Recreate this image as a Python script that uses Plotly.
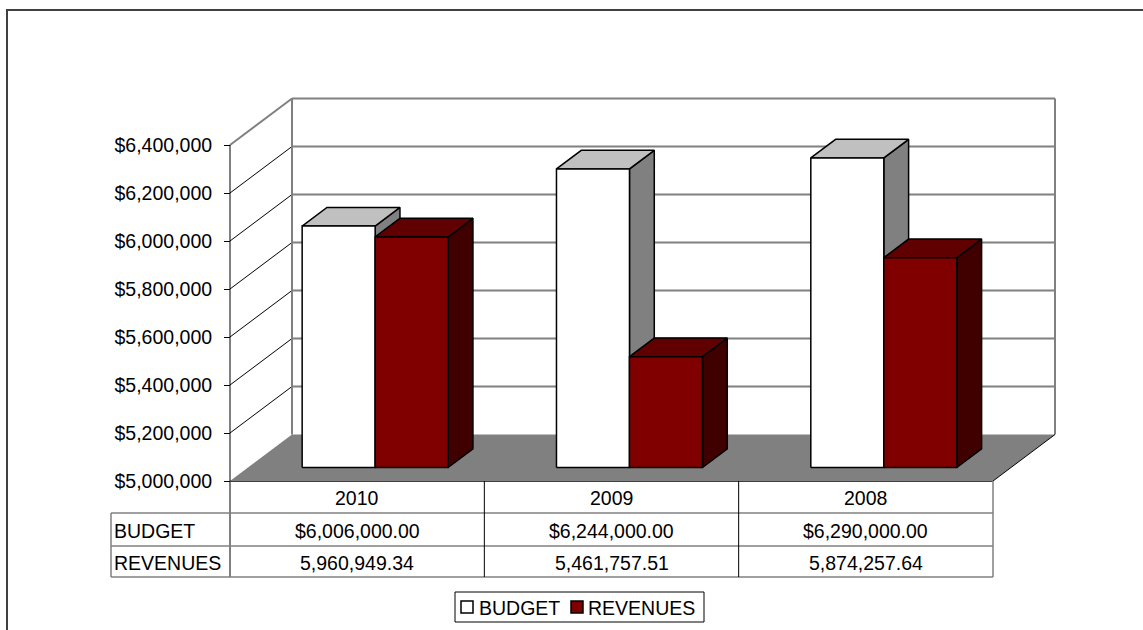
import plotly.graph_objects as go

# ---- data ----
categories = ["2010", "2009", "2008"]
budget = [6006000.00, 6244000.00, 6290000.00]
revenues = [5960949.34, 5461757.51, 5874257.64]
series_names = ["BUDGET", "REVENUES"]
axis_ticks = [5000000, 5200000, 5400000, 5600000, 5800000, 6000000, 6200000, 6400000]

# ---- page / projection geometry ----
W, H = 1143, 630
FONT = "Liberation Sans, Arial, sans-serif"
FS = 19.5

BASE, TOP = axis_ticks[0], axis_ticks[-1]
ORIGIN_X_PX, ORIGIN_Y_PX = 230, 481          # front-left corner of the floor
UNIT_PX = (993 - 230) / len(categories)       # pixels per category slot
VAL_PX = 48 / 200000                          # pixels per dollar
DX = 62 / UNIT_PX                             # oblique depth offset (x, category units)
DY = 46.5 / VAL_PX                            # oblique depth offset (y, dollars)
D_FRONT, D_BACK = 0.29, 0.69                  # bar depth extent within the floor
BAR_W = 73 / UNIT_PX

x_range = [-ORIGIN_X_PX / UNIT_PX, (W - ORIGIN_X_PX) / UNIT_PX]
y_range = [BASE - (H - ORIGIN_Y_PX) / VAL_PX, BASE + ORIGIN_Y_PX / VAL_PX]


def proj(u, v, d):
    """Oblique projection of (category position, value, depth) onto the 2-D axes."""
    return u + d * DX, v + d * DY


def val_at(px):
    return BASE + (ORIGIN_Y_PX - px) / VAL_PX


def py(px):
    return 1 - px / H


def px_x(px):
    return px / W


fig = go.Figure()
shapes = []
annotations = []


def seg(x0, y0, x1, y1, color, width, xref="x", yref="y"):
    shapes.append(dict(type="line", xref=xref, yref=yref, x0=x0, y0=y0, x1=x1, y1=y1,
                       line=dict(color=color, width=width), layer="below"))


def poly(points, fill, line_color, line_width, name=None):
    xs = [p[0] for p in points] + [points[0][0]]
    ys = [p[1] for p in points] + [points[0][1]]
    fig.add_trace(go.Scatter(x=xs, y=ys, mode="lines", fill="toself", fillcolor=fill,
                             line=dict(color=line_color, width=line_width),
                             hoverinfo="skip", showlegend=False, name=name))


n = len(categories)

# ---- walls ----
for v in axis_ticks[1:]:
    # back wall gridline
    xa, ya = proj(0, v, 1)
    xb, yb = proj(n, v, 1)
    seg(xa, ya, xb, yb, "#808080", 2)
    # side wall gridline
    if v == TOP:
        seg(0, v, xa, ya, "#808080", 2)
    else:
        seg(0, v, xa, ya, "#000000", 1)
for u in (0, n):
    xa, ya = proj(u, BASE, 1)
    xb, yb = proj(u, TOP, 1)
    seg(xa, ya, xb, yb, "#808080", 2)

# ---- floor ----
poly([proj(0, BASE, 0), proj(n, BASE, 0), proj(n, BASE, 1), proj(0, BASE, 1)],
     "#808080", "rgba(0,0,0,0)", 0)
fx0, fy0 = proj(n, BASE, 0)
fx1, fy1 = proj(n, BASE, 1)
fig.add_trace(go.Scatter(x=[fx0, fx1], y=[fy0, fy1], mode="lines",
                         line=dict(color="#000000", width=1), hoverinfo="skip", showlegend=False))

# ---- 3-D bars ----
styles = [
    dict(front="#FFFFFF", top="#C0C0C0", side="#808080"),
    dict(front="#800000", top="#600000", side="#400000"),
]
for i in range(n):
    centre = i + 0.5
    for s, vals in enumerate((budget, revenues)):
        v = vals[i]
        u0 = centre - BAR_W + s * BAR_W
        u1 = u0 + BAR_W
        st = styles[s]
        poly([proj(u1, BASE, D_FRONT), proj(u1, v, D_FRONT), proj(u1, v, D_BACK), proj(u1, BASE, D_BACK)],
             st["side"], "#000000", 1.5)
        poly([proj(u0, v, D_FRONT), proj(u1, v, D_FRONT), proj(u1, v, D_BACK), proj(u0, v, D_BACK)],
             st["top"], "#000000", 1.5)
        poly([proj(u0, BASE, D_FRONT), proj(u1, BASE, D_FRONT), proj(u1, v, D_FRONT), proj(u0, v, D_FRONT)],
             st["front"], "#000000", 1.5, name=series_names[s])

# ---- value axis line (continues down through the data table) ----
TABLE_ROWS_PX = [481, 513, 546, 577]
LABEL_COL_PX = 111
seg(0, TOP, 0, val_at(TABLE_ROWS_PX[-1]), "#000000", 1)

# ---- data table ----
seg(0, BASE, n, BASE, "#404040", 2)
for rpx in TABLE_ROWS_PX[1:]:
    shapes.append(dict(type="line", xref="paper", yref="paper",
                       x0=px_x(LABEL_COL_PX), x1=px_x(ORIGIN_X_PX + n * UNIT_PX),
                       y0=py(rpx), y1=py(rpx), line=dict(color="#808080", width=1.5)))
shapes.append(dict(type="line", xref="paper", yref="paper",
                   x0=px_x(LABEL_COL_PX), x1=px_x(LABEL_COL_PX),
                   y0=py(TABLE_ROWS_PX[1]), y1=py(TABLE_ROWS_PX[-1]),
                   line=dict(color="#808080", width=1.5)))
for u in range(1, n + 1):
    shapes.append(dict(type="line", xref="x", yref="paper", x0=u, x1=u,
                       y0=py(TABLE_ROWS_PX[0]), y1=py(TABLE_ROWS_PX[-1]),
                       line=dict(color="#000000" if u < n else "#808080", width=1.5 if u == n else 1)))

row_text = [
    categories,
    [f"${v:,.2f}" for v in budget],
    [f"{v:,.2f}" for v in revenues],
]
for r, texts in enumerate(row_text):
    yc = py((TABLE_ROWS_PX[r] + TABLE_ROWS_PX[r + 1]) / 2 + 1)
    for i, t in enumerate(texts):
        annotations.append(dict(x=i + 0.5, y=yc, xref="x", yref="paper", text=t, showarrow=False,
                                xanchor="center", yanchor="middle",
                                font=dict(family=FONT, size=FS, color="#000000")))
    if r > 0:
        annotations.append(dict(x=px_x(LABEL_COL_PX + 1), y=yc, xref="paper", yref="paper",
                                text=series_names[r - 1], showarrow=False,
                                xanchor="left", yanchor="middle",
                                font=dict(family=FONT, size=FS, color="#000000")))

# ---- legend ----
LEG = dict(x0=455, x1=704, y0=592, y1=622)
shapes.append(dict(type="rect", xref="paper", yref="paper",
                   x0=px_x(LEG["x0"]), x1=px_x(LEG["x1"]), y0=py(LEG["y0"]), y1=py(LEG["y1"]),
                   line=dict(color="#000000", width=1), fillcolor="#FFFFFF"))
legend_items = [(461, 479), (571, 588)]
for s, (kx, tx) in enumerate(legend_items):
    shapes.append(dict(type="rect", xref="paper", yref="paper",
                       x0=px_x(kx), x1=px_x(kx + 12), y0=py(601), y1=py(613),
                       line=dict(color="#000000", width=1.5), fillcolor=styles[s]["front"]))
    annotations.append(dict(x=px_x(tx), y=py(607.5), xref="paper", yref="paper",
                            text=series_names[s], showarrow=False, xanchor="left", yanchor="middle",
                            xshift=-2, font=dict(family=FONT, size=FS, color="#000000")))

# ---- chart frame ----
shapes.append(dict(type="rect", xref="paper", yref="paper",
                   x0=px_x(7), x1=1.05, y0=py(10), y1=-0.05,
                   line=dict(color="#404040", width=2), layer="below"))

fig.update_layout(
    width=W, height=H,
    margin=dict(l=0, r=0, t=0, b=0),
    paper_bgcolor="#FFFFFF", plot_bgcolor="#FFFFFF",
    showlegend=False,
    shapes=shapes,
    annotations=annotations,
    xaxis=dict(range=x_range, visible=False, fixedrange=True),
    yaxis=dict(range=y_range, anchor="free", position=ORIGIN_X_PX / W,
               tickvals=axis_ticks, ticktext=[f"${v:,.0f}" for v in axis_ticks],
               ticks="outside", ticklen=6, tickwidth=1, tickcolor="#000000",
               ticklabelstandoff=8,
               showline=False, showgrid=False, zeroline=False, fixedrange=True,
               tickfont=dict(family=FONT, size=FS, color="#000000")),
    font=dict(family=FONT, size=FS, color="#000000"),
)

fig.write_html("out.html")
